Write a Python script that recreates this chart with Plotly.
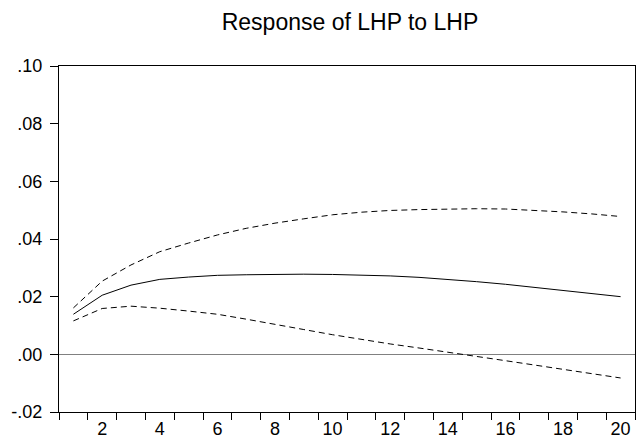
import plotly.graph_objects as go

periods = list(range(1, 21))
response = [0.0139, 0.0205, 0.0240, 0.0260, 0.0268, 0.0274, 0.0276, 0.0278, 0.0278, 0.0277,
            0.0275, 0.0272, 0.0267, 0.0260, 0.0252, 0.0243, 0.0232, 0.0223, 0.0211, 0.0200]
upper = [0.0161, 0.0254, 0.0310, 0.0356, 0.0386, 0.0414, 0.0437, 0.0455, 0.0470, 0.0484,
         0.0493, 0.0499, 0.0502, 0.0504, 0.0505, 0.0504, 0.0500, 0.0494, 0.0487, 0.0478]
lower = [0.0116, 0.0159, 0.0167, 0.0160, 0.0150, 0.0139, 0.0122, 0.0105, 0.0086, 0.0068,
         0.0051, 0.0036, 0.0022, 0.0008, -0.0007, -0.0022, -0.0037, -0.0052, -0.0067, -0.0082]

x_tick_vals = [2, 4, 6, 8, 10, 12, 14, 16, 18, 20]
x_tick_text = ["2", "4", "6", "8", "10", "12", "14", "16", "18", "20"]
y_tick_vals = [0.10, 0.08, 0.06, 0.04, 0.02, 0.00, -0.02]
y_tick_text = [".10", ".08", ".06", ".04", ".02", ".00", "-.02"]
title_text = "Response of LHP to LHP"

FONT = "Liberation Sans, Arial, sans-serif"

fig = go.Figure()
fig.add_trace(go.Scatter(x=periods, y=upper, mode="lines",
                         line=dict(color="black", width=1, dash="6px,4px"), name="+2 S.E."))
fig.add_trace(go.Scatter(x=periods, y=response, mode="lines",
                         line=dict(color="black", width=1), name="Response"))
fig.add_trace(go.Scatter(x=periods, y=lower, mode="lines",
                         line=dict(color="black", width=1, dash="6px,4px"), name="-2 S.E."))

fig.update_layout(
    width=636, height=444,
    margin=dict(l=59, r=1, t=66, b=32, autoexpand=False),
    paper_bgcolor="white", plot_bgcolor="white",
    showlegend=False,
    font=dict(family=FONT, size=18, color="black"),
    title=dict(text=title_text, x=350 / 636, xanchor="center",
               y=1 - 22 / 444, yanchor="middle", yref="container",
               font=dict(family=FONT, size=23, color="black")),
)
fig.update_xaxes(
    range=[0.5, 20.5], tickvals=x_tick_vals, ticktext=x_tick_text,
    ticks="", showgrid=False, zeroline=False, automargin=False,
    showline=True, linecolor="black", linewidth=1, mirror=True,
    minor=dict(tickvals=[i + 0.5 for i in range(0, 21)], ticks="outside",
               ticklen=7, tickcolor="black", tickwidth=1, showgrid=False),
    tickfont=dict(family=FONT, size=18, color="black"),
)
fig.update_yaxes(
    range=[-0.02, 0.10], tickvals=y_tick_vals, ticktext=y_tick_text,
    ticks="outside", ticklen=8, tickcolor="black", tickwidth=1, automargin=False,
    ticklabelstandoff=4,
    showgrid=False, zeroline=True, zerolinecolor="#808080", zerolinewidth=1,
    showline=True, linecolor="black", linewidth=1, mirror=True,
    tickfont=dict(family=FONT, size=18, color="black"),
)

fig.write_html("out.html",
               config={"displayModeBar": False},
               post_script="document.body.style.margin='0';document.body.style.overflow='hidden';")
